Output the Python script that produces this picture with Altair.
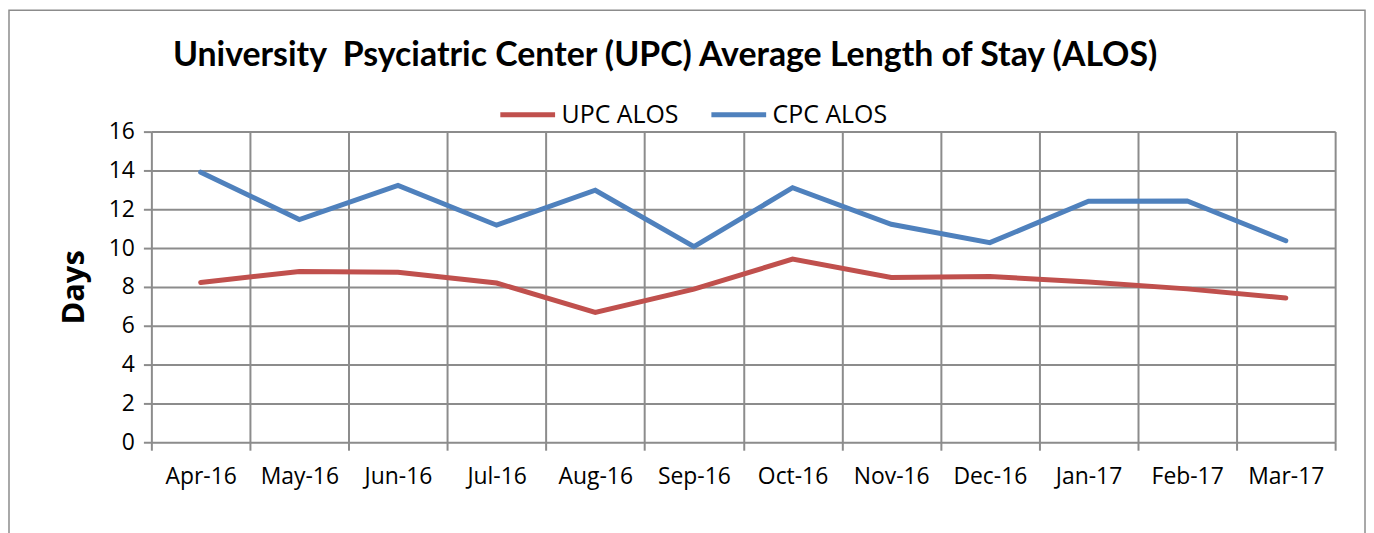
import altair as alt
import pandas as pd

months = ["Apr-16", "May-16", "Jun-16", "Jul-16", "Aug-16", "Sep-16",
          "Oct-16", "Nov-16", "Dec-16", "Jan-17", "Feb-17", "Mar-17"]
upc = [8.23, 8.79, 8.76, 8.20, 6.69, 7.89, 9.43, 8.49, 8.54, 8.25, 7.90, 7.43]
cpc = [13.91, 11.47, 13.23, 11.18, 12.98, 10.07, 13.11, 11.23, 10.28, 12.41, 12.43, 10.38]
series = ["UPC ALOS", "CPC ALOS"]
colors = ["#C0504D", "#4F81BD"]
title_text = "University\u00a0 Psyciatric Center (UPC) Average Length of Stay (ALOS)"

rows = []
for name, vals in zip(series, [upc, cpc]):
    for m, v in zip(months, vals):
        rows.append({"Month": m, "Series": name, "Days": v})
df = pd.DataFrame(rows)

FONT = "Open Sans"
TFONT = "Lato"
GRID = "#8c8c8c"

lines = alt.Chart(df).mark_line(strokeWidth=5, strokeCap="round").encode(
    x=alt.X("Month:N", sort=months, title=None,
            scale=alt.Scale(paddingInner=0, paddingOuter=0),
            axis=alt.Axis(tickBand="extent", labelAngle=0, grid=True,
                          gridColor=GRID, gridWidth=2, gridOpacity=1,
                          tickColor=GRID, tickWidth=2,
                          tickSize=8, labelPadding=15, labelFontSize=23,
                          labelFont=FONT, labelColor="#000000",
                          domain=False)),
    y=alt.Y("Days:Q", title="Days",
            scale=alt.Scale(domain=[0, 16], nice=False),
            axis=alt.Axis(values=[0, 2, 4, 6, 8, 10, 12, 14, 16], tickSize=8,
                          gridColor=GRID, gridWidth=2, gridOpacity=1,
                          tickColor=GRID, tickWidth=2,
                          labelPadding=9, labelFontSize=23, labelFont=FONT,
                          labelColor="#000000", titleFontSize=31, titleFont=FONT,
                          titleColor="#000000",
                          titleFontWeight="bold", titlePadding=18, domain=False)),
    color=alt.Color("Series:N", sort=series,
                    scale=alt.Scale(domain=series, range=colors),
                    legend=alt.Legend(title=None, orient="none", legendX=348, legendY=-47,
                                      direction="horizontal", symbolType="stroke",
                                      symbolSize=3025, symbolStrokeWidth=5,
                                      labelFontSize=25, labelOffset=4,
                                      labelFont=FONT, labelColor="#000000",
                                      columnPadding=22)),
)

frame_df = pd.DataFrame({"k": [0]})
frame = alt.Chart(frame_df).mark_rect(fill="transparent", stroke=GRID, strokeWidth=1.5).encode(
    x=alt.value(-143), x2=alt.value(1219), y=alt.value(-122), y2=alt.value(420)
)
title_mark = alt.Chart(frame_df).mark_text(
    text=title_text, font=TFONT, fontSize=34, fontWeight="bold", color="#000000",
    align="center", baseline="middle"
).encode(x=alt.value(516), y=alt.value(-76))

chart = alt.layer(frame, title_mark, lines).properties(
    width=1189, height=312,
    autosize=alt.AutoSizeParams(type="none"),
    padding={"left": 144, "top": 123, "right": 31, "bottom": 90},
).configure_view(
    stroke=GRID, strokeWidth=2
).configure(background="white")

chart.save("out.html", embed_options={"renderer": "svg", "actions": False})
